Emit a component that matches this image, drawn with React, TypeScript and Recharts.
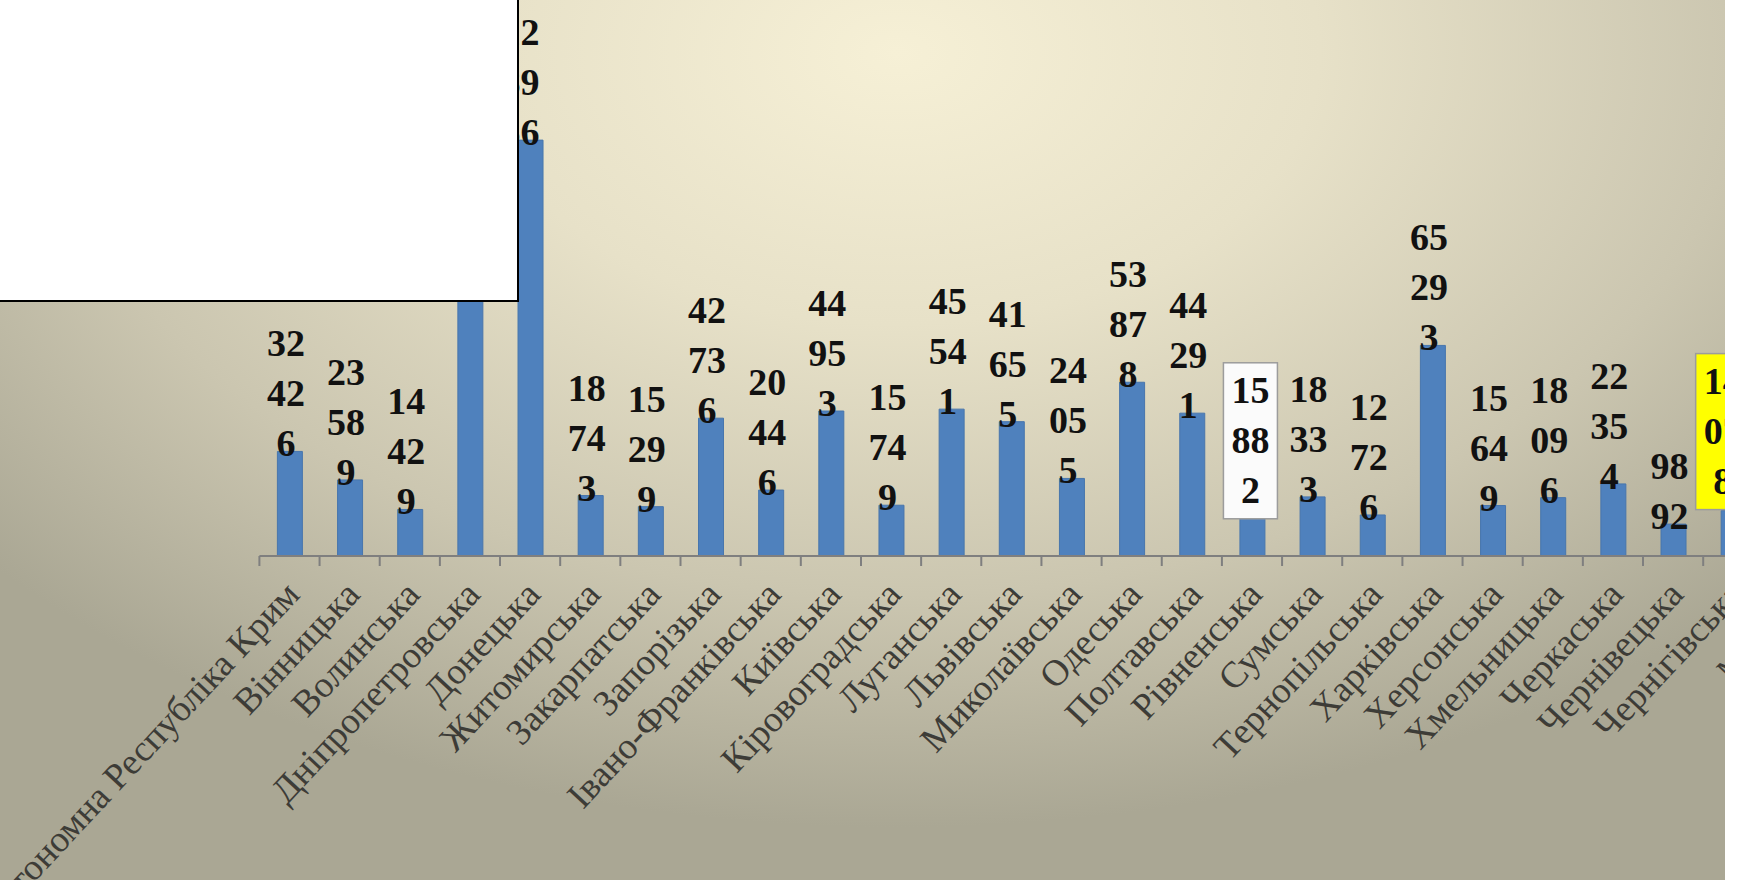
import React from 'react';
import { BarChart, Bar, XAxis, YAxis, LabelList } from 'recharts';

const regions = [
  'Автономна Республіка Крим', 'Вінницька', 'Волинська', 'Дніпропетровська', 'Донецька',
  'Житомирська', 'Закарпатська', 'Запорізька', 'Івано-Франківська', 'Київська',
  'Кіровоградська', 'Луганська', 'Львівська', 'Миколаївська', 'Одеська',
  'Полтавська', 'Рівненська', 'Сумська', 'Тернопільська', 'Харківська',
  'Херсонська', 'Хмельницька', 'Черкаська', 'Чернівецька', 'Чернігівська', 'м. Київ',
];

// Дніпропетровська is hidden behind the white panel, so its value is a guess
const counts: (number | null)[] = [
  32426, 23589, 14429, 109000, 128956,
  18743, 15299, 42736, 20446, 44953,
  15749, 45541, 41655, 24055, 53878,
  44291, 15882, 18333, 12726, 65293,
  15649, 18096, 22354, 9892, 14078, null,
];

const whiteBoxRegion = 'Рівненська';
const yellowBoxRegion = 'Чернігівська';
// labels that sit off-centre in the original slide
const labelShift: Record<string, number> = { 'Донецька': -10, 'Рівненська': -2, 'Чернігівська': -11 };

const data = regions.map((region, i) => ({ region, value: counts[i] }));

const CHART_W = 1834;
const CHART_H = 880;
const LEFT = 259.4;
const TOP = 40;
const AXIS_H = 324;
const AXIS_Y = CHART_H - AXIS_H;
const BAND = (CHART_W - LEFT - 10.5) / regions.length;
const LINE = 50;
const SERIF = "'Liberation Serif', 'Times New Roman', 'DejaVu Serif', serif";

const renderValue = (props: any) => {
  const { x, y, width, value, index } = props;
  if (value == null) return null;
  const s = String(value);
  const lines: string[] = [];
  for (let i = 0; i < s.length; i += 2) lines.push(s.slice(i, i + 2));
  const name = regions[index];
  const cx = x + width / 2 + (labelShift[name] ?? -4);
  let last = y + 5;
  let box: string | null = null;
  if (name === whiteBoxRegion) {
    box = '#fbfbfb';
    last = y - 2;
  } else if (name === yellowBoxRegion) {
    box = '#ffff00';
    last = y - 17;
  }
  const first = last - LINE * (lines.length - 1);
  return (
    <g>
      {box && (
        <rect x={cx - 27} y={first - 40} width={54} height={last + 16 - (first - 40)}
          fill={box} stroke="#9c9c9c" strokeWidth={1.5} />
      )}
      <text textAnchor="middle" style={{ fontFamily: SERIF, fontWeight: 700, fontSize: 38 }} fill="#111">
        {lines.map((l, k) => (
          <tspan key={k} x={cx} y={first + LINE * k}>{l}</tspan>
        ))}
      </text>
    </g>
  );
};

const renderTick = (p: any) => {
  const { x, payload, index } = p;
  return (
    <g>
      <line x1={x - BAND / 2} x2={x - BAND / 2} y1={AXIS_Y} y2={AXIS_Y + 10} stroke="#7f7f7f" strokeWidth={2} />
      {index === regions.length - 1 && (
        <line x1={x + BAND / 2} x2={x + BAND / 2} y1={AXIS_Y} y2={AXIS_Y + 10} stroke="#7f7f7f" strokeWidth={2} />
      )}
      <text transform={`translate(${x + 12},${AXIS_Y + 40}) rotate(-47)`} textAnchor="end"
        style={{ fontFamily: SERIF, fontSize: 37 }} fill="#3d3c37">
        {payload.value}
      </text>
    </g>
  );
};

export default function App() {
  return (
    <div style={{ position: 'absolute', left: 0, top: 0, width: 1739, height: 880, background: '#fff', overflow: 'hidden' }}>
      <div
        style={{
          position: 'absolute', left: 0, top: 0, width: 1725, height: 880, overflow: 'hidden',
          background: 'radial-gradient(ellipse 70% 88% at 52% 6%, #f6f0d6 0%, #e7e1c8 35%, #cbc6b0 70%, #aaa794 100%)',
        }}
      >
        <BarChart width={CHART_W} height={CHART_H} data={data}
          margin={{ top: TOP, right: 10.5, left: LEFT, bottom: 0 }}>
          <XAxis dataKey="region" interval={0} height={AXIS_H} tickLine={false}
            axisLine={{ stroke: '#7f7f7f', strokeWidth: 2 }} tick={renderTick} />
          <YAxis hide domain={[0, 160000]} />
          <Bar dataKey="value" fill="#4f81bd" stroke="#4876ad" strokeWidth={1} barSize={25} isAnimationActive={false}>
            <LabelList dataKey="value" content={renderValue} />
          </Bar>
        </BarChart>
        <div style={{
          position: 'absolute', left: 0, top: 0, width: 517, height: 300, background: '#fff',
          borderRight: '2px solid #000', borderBottom: '2px solid #000',
        }} />
      </div>
    </div>
  );
}
